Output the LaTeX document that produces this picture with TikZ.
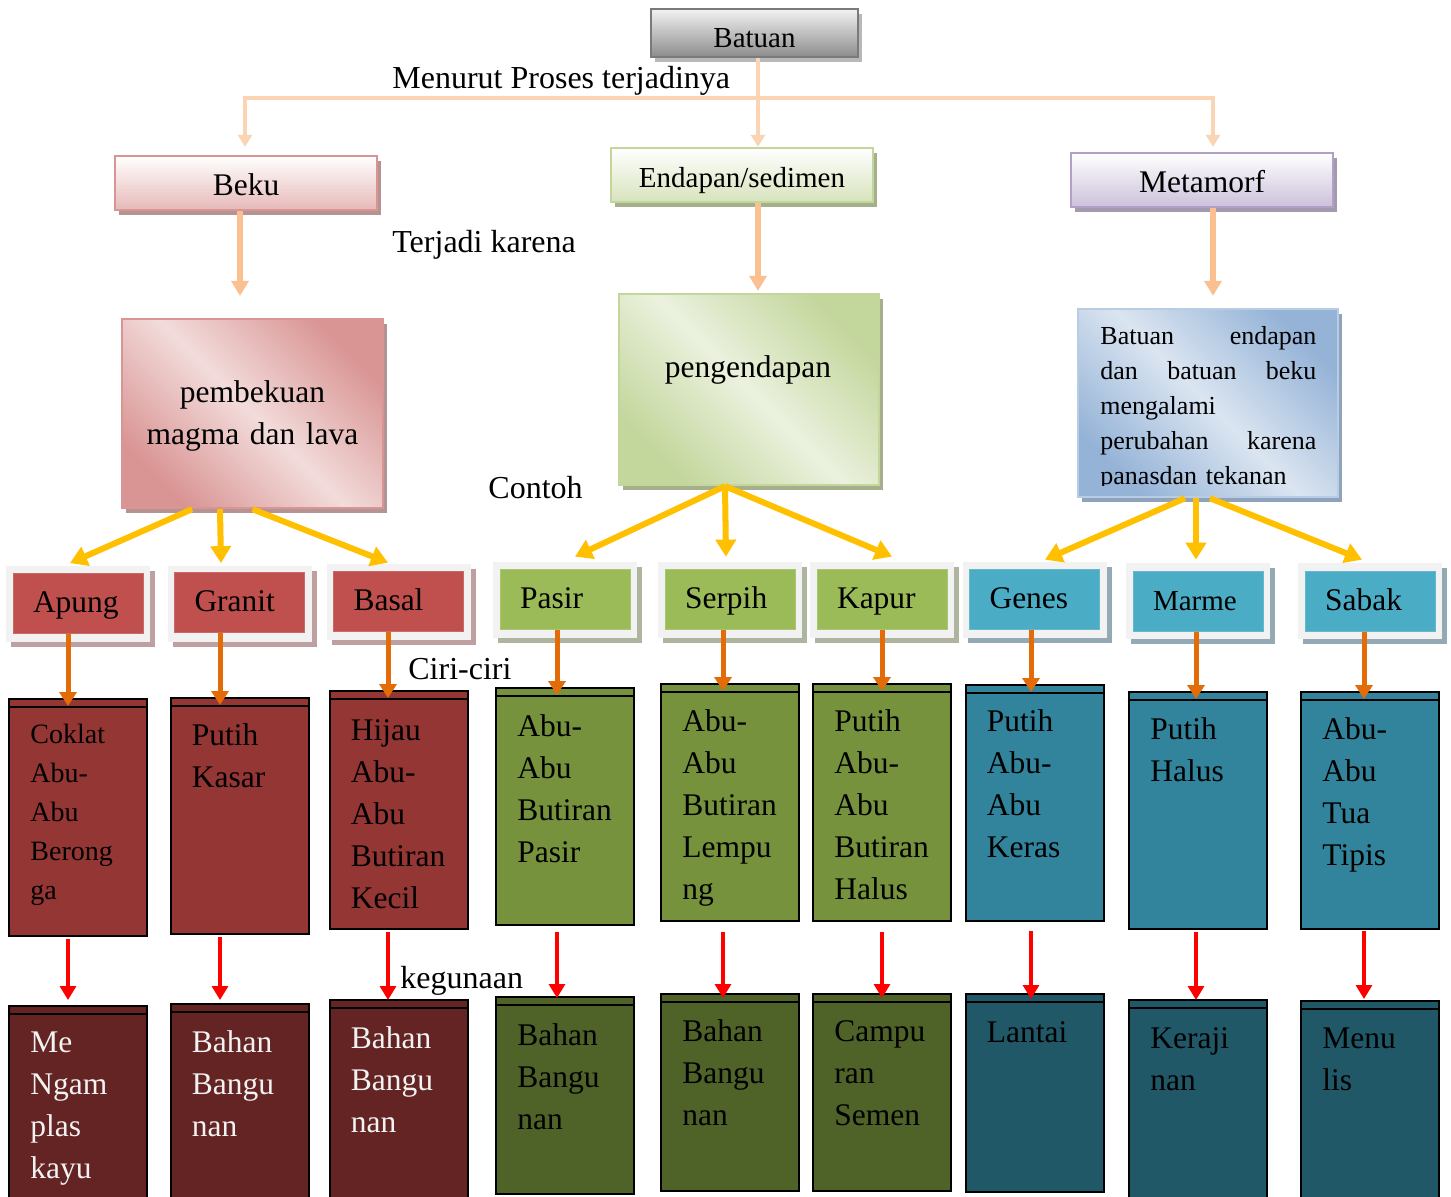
\documentclass[tikz,border=0pt]{standalone}
\usepackage{fontspec}
\setmainfont{Liberation Serif}
\usetikzlibrary{arrows.meta,shadows}

% type sizes
\newcommand\szbox{\fontsize{15.75}{21}\selectfont}
\newcommand\szsmall{\fontsize{14.5}{19.5}\selectfont}
\newcommand\szfeat{\fontsize{14}{19.5}\selectfont}
\newcommand\szdesc{\fontsize{13}{17.5}\selectfont}
\newcommand\szlabel{\fontsize{16}{21}\selectfont}

% connector colours
\definecolor{peachA}{HTML}{FBD4B4}
\definecolor{peachB}{HTML}{FAC090}
\definecolor{amber}{HTML}{FFC000}
\definecolor{orng}{HTML}{E36C09}
\definecolor{redA}{HTML}{FF0000}
% header boxes
\definecolor{batTop}{HTML}{F2F2F2}
\definecolor{batLow}{HTML}{8C8C8C}
\definecolor{batEdge}{HTML}{7A7A7A}
\definecolor{batShadow}{HTML}{B8B8B8}
\definecolor{pinkLight}{HTML}{F2DCDB}
\definecolor{pinkLow}{HTML}{E6B9B8}
\definecolor{pinkDark}{HTML}{D99594}
\definecolor{pinkShadow}{HTML}{B59393}
\definecolor{greenLight}{HTML}{EBF1DE}
\definecolor{greenLow}{HTML}{D7E3BC}
\definecolor{greenDark}{HTML}{C3D69B}
\definecolor{greenShadow}{HTML}{A5AF8C}
\definecolor{lilacLow}{HTML}{CCC1DA}
\definecolor{lilacEdge}{HTML}{B2A1C7}
\definecolor{lilacShadow}{HTML}{A39AB0}
\definecolor{blueLight}{HTML}{DBE5F1}
\definecolor{blueDark}{HTML}{95B3D7}
\definecolor{blueEdge}{HTML}{B8CCE4}
\definecolor{blueShadow}{HTML}{8FA3BC}
% rock columns
\definecolor{frame}{HTML}{F2F2F2}
\definecolor{rockRed}{HTML}{C0504D}
\definecolor{rockGreen}{HTML}{9BBB59}
\definecolor{rockBlue}{HTML}{4BACC6}
\definecolor{featRed}{HTML}{943634}
\definecolor{featGreen}{HTML}{76923C}
\definecolor{featBlue}{HTML}{31849B}
\definecolor{useRed}{HTML}{632423}
\definecolor{useGreen}{HTML}{4F6228}
\definecolor{useBlue}{HTML}{215868}
\definecolor{shRed}{HTML}{BFA0A0}
\definecolor{shGreen}{HTML}{AEB59E}
\definecolor{shBlue}{HTML}{93A9B4}
\definecolor{paleText}{HTML}{F2F2F2}

\begin{document}
\begin{tikzpicture}[x=0.5pt, y=-0.5pt,
  every node/.style={font=\szbox},
  head/.style n args={3}{draw=#1, line width=1.2pt, top color=white, bottom color=#2,
    minimum width=131pt, minimum height=27pt, inner sep=0pt,
    text height=12pt, text depth=0pt,
    drop shadow={shadow xshift=2pt, shadow yshift=-2.5pt, fill=#3, opacity=1}},
  diag/.style n args={4}{draw=#1, line width=1.2pt, top color=#2, bottom color=#2,
    middle color=#3, shading angle=-45, inner sep=0pt,
    drop shadow={shadow xshift=2pt, shadow yshift=-2.5pt, fill=#4, opacity=1}},
  catout/.style={fill=frame, minimum width=72pt, minimum height=38pt, inner sep=0pt,
    drop shadow={shadow xshift=2.5pt, shadow yshift=-2.5pt, fill=#1, opacity=1}},
  catin/.style={fill=#1, draw=#1!85!white, line width=0.5pt, minimum width=65pt,
    minimum height=30pt, text width=45pt, inner xsep=10pt, inner ysep=0pt,
    align=left, text height=10pt, text depth=1pt},
  feat/.style={fill=#1, draw=black, line width=1pt, minimum width=69pt, inner sep=0pt,
    anchor=north,
    path picture={\draw[black, line width=1pt]
      ([yshift=-4pt]path picture bounding box.north west) --
      ([yshift=-4pt]path picture bounding box.north east);}},
  ftxt/.style={anchor=base west, inner sep=0pt, text width=60pt, align=left, font=\szbox},
  lbl/.style={anchor=base west, inner sep=0pt, font=\szlabel},
  thinpeach/.style={draw=peachA, line width=2pt, -{Triangle[width=7pt,length=6pt]}},
  thickpeach/.style={draw=peachB, line width=3pt, -{Triangle[width=8.5pt,length=7.5pt]}},
  yarr/.style={draw=amber, line width=3pt, -{Triangle[width=10pt,length=8.5pt]}},
  oarr/.style={draw=orng, line width=2.5pt, -{Triangle[width=8.5pt,length=7pt]}},
  rarr/.style={draw=redA, line width=1.6pt, -{Triangle[width=8pt,length=7pt]}}
]
\useasboundingbox (0,0) rectangle (1451,1196);
\clip (0,0) rectangle (1451,1196);
\fill[white] (0,0) rectangle (1451,1196);

% ---------- header row ----------
\node[head={batEdge}{batLow}{batShadow}, top color=batTop, bottom color=batLow,
      minimum width=103.5pt, minimum height=24pt, text height=14pt, font=\szsmall] (batuan) at (754.5,33) {Batuan};
\node[head={pinkDark}{pinkLow}{pinkShadow}] (beku) at (246,183) {Beku};
\node[head={greenDark}{greenLow}{greenShadow}, font=\szsmall] (endapan) at (742,175) {Endapan/sedimen};
\node[head={lilacEdge}{lilacLow}{lilacShadow}] (metamorf) at (1202,180) {Metamorf};

% ---------- process boxes ----------
\node[diag={pinkDark}{pinkDark}{pinkLight}{pinkShadow}, minimum width=130.5pt, minimum height=94.5pt] (pemb) at (252.5,413.5) {};
\node[diag={greenDark}{greenDark}{greenLight}{greenShadow}, minimum width=130pt, minimum height=95.5pt] (peng) at (749,389.5) {};
\node[diag={blueEdge}{blueDark}{blueLight}{blueShadow}, minimum width=130pt, minimum height=94pt] (metdesc) at (1208,403) {};

\node[anchor=base, inner sep=0pt, text width=125pt, align=center] (pembT) at (252.5,402) {pembekuan\\magma dan lava};
\node[anchor=base, inner sep=0pt] (pengT) at (748,377) {pengendapan};
\begin{scope}
  \clip (1078,309) rectangle (1338,485);
  \node[anchor=base west, inner sep=0pt, text width=108pt, align=left, font=\szdesc] (metT) at (1100,344)
    {\makebox[108pt][l]{Batuan\hfill endapan}\\
     \makebox[108pt][l]{dan\hfill batuan\hfill beku}\\
     mengalami\\
     \makebox[108pt][l]{perubahan\hfill karena}\\
     panasdan tekanan};
\end{scope}

% ---------- free labels ----------
\node[lbl] (procLbl) at (392,88) {Menurut Proses terjadinya};
\node[lbl] (causeLbl) at (392,252) {Terjadi karena};
\node[lbl] (exLbl) at (488,498) {Contoh};
\node[lbl] (traitLbl) at (408,679) {Ciri-ciri};
\node[lbl] (useLbl) at (400,988) {kegunaan};

% ---------- rock names ----------
\node[catout=shRed] (apung-out) at (78,603.5) {};
\node[catin=rockRed] (apung-in) at (78,603) {Apung};
\node[catout=shRed] (granit-out) at (239.5,603.5) {};
\node[catin=rockRed] (granit-in) at (239.5,602.5) {Granit};
\node[catout=shRed] (basal-out) at (398.5,601.5) {};
\node[catin=rockRed] (basal-in) at (398.5,601) {Basal};
\node[catout=shGreen] (pasir-out) at (565,599.5) {};
\node[catin=rockGreen] (pasir-in) at (565,599) {Pasir};
\node[catout=shGreen] (serpih-out) at (730,599.5) {};
\node[catin=rockGreen] (serpih-in) at (730,599) {Serpih};
\node[catout=shGreen] (kapur-out) at (882,599.5) {};
\node[catin=rockGreen] (kapur-in) at (882,599) {Kapur};
\node[catout=shBlue] (genes-out) at (1034.5,599.5) {};
\node[catin=rockBlue] (genes-in) at (1034.5,599) {Genes};
\node[catout=shBlue] (marme-out) at (1198,601) {};
\node[catin=rockBlue, font=\szsmall] (marme-in) at (1198,601) {Marme};
\node[catout=shBlue] (sabak-out) at (1370,601) {};
\node[catin=rockBlue] (sabak-in) at (1370,601) {Sabak};

% ---------- traits ----------
\node[feat=featRed, minimum height=118.5pt] (apung-ft) at (78,698) {};
\node[feat=featRed, minimum height=118pt] (granit-ft) at (239.5,697) {};
\node[feat=featRed, minimum height=119pt] (basal-ft) at (398.5,690) {};
\node[feat=featGreen, minimum height=118.5pt] (pasir-ft) at (565,687) {};
\node[feat=featGreen, minimum height=118.5pt] (serpih-ft) at (730,683) {};
\node[feat=featGreen, minimum height=118.5pt] (kapur-ft) at (882,683) {};
\node[feat=featBlue, minimum height=118pt] (genes-ft) at (1034.5,684) {};
\node[feat=featBlue, minimum height=118.5pt] (marme-ft) at (1198,691) {};
\node[feat=featBlue, minimum height=118.5pt] (sabak-ft) at (1370,691) {};

\node[ftxt, font=\szfeat] (apung-ftt) at (30,743) {Coklat\\Abu-\\Abu\\Berong\\ga};
\node[ftxt] (granit-ftt) at (191.5,745) {Putih\\Kasar};
\node[ftxt] (basal-ftt) at (350.5,740) {Hijau\\Abu-\\Abu\\Butiran\\Kecil};
\node[ftxt] (pasir-ftt) at (517,736) {Abu-\\Abu\\Butiran\\Pasir};
\node[ftxt] (serpih-ftt) at (682,731) {Abu-\\Abu\\Butiran\\Lempu\\ng};
\node[ftxt] (kapur-ftt) at (834,731) {Putih\\Abu-\\Abu\\Butiran\\Halus};
\node[ftxt] (genes-ftt) at (986.5,731) {Putih\\Abu-\\Abu\\Keras};
\node[ftxt] (marme-ftt) at (1150,739) {Putih\\Halus};
\node[ftxt] (sabak-ftt) at (1322,739) {Abu-\\Abu\\Tua\\Tipis};

% ---------- uses ----------
\node[feat=useRed, minimum height=120pt] (apung-use) at (78,1005) {};
\node[feat=useRed, minimum height=120pt] (granit-use) at (239.5,1003) {};
\node[feat=useRed, minimum height=120pt] (basal-use) at (398.5,999) {};
\node[feat=useGreen, minimum height=98.5pt] (pasir-use) at (565,996) {};
\node[feat=useGreen, minimum height=98.5pt] (serpih-use) at (730,993) {};
\node[feat=useGreen, minimum height=98.5pt] (kapur-use) at (882,993) {};
\node[feat=useBlue, minimum height=99pt] (genes-use) at (1034.5,993) {};
\node[feat=useBlue, minimum height=120pt] (marme-use) at (1198,999) {};
\node[feat=useBlue, minimum height=120pt] (sabak-use) at (1370,1000) {};

\node[ftxt, text=paleText] (apung-uset) at (30,1052) {Me\\Ngam\\plas\\kayu};
\node[ftxt, text=paleText] (granit-uset) at (191.5,1052) {Bahan\\Bangu\\nan};
\node[ftxt, text=paleText] (basal-uset) at (350.5,1048) {Bahan\\Bangu\\nan};
\node[ftxt] (pasir-uset) at (517,1045) {Bahan\\Bangu\\nan};
\node[ftxt] (serpih-uset) at (682,1041) {Bahan\\Bangu\\nan};
\node[ftxt] (kapur-uset) at (834,1041) {Campu\\ran\\Semen};
\node[ftxt] (genes-uset) at (986.5,1042) {Lantai};
\node[ftxt] (marme-uset) at (1150,1048) {Keraji\\nan};
\node[ftxt] (sabak-uset) at (1322,1048) {Menu\\lis};

% ---------- connectors ----------
\coordinate (hub) at (758,98);
\draw[thinpeach, -] ([xshift=1.75pt]batuan.south) -- (hub);
\draw[thinpeach] (hub) -- ([xshift=8pt]endapan.north);
\draw[thinpeach] (hub) -| ([xshift=-0.5pt,yshift=4pt]beku.north);
\draw[thinpeach] (hub) -| ([xshift=5.5pt,yshift=2.5pt]metamorf.north);

\draw[thickpeach] ([xshift=-3pt]beku.south) -- ([xshift=-6.25pt,yshift=11pt]pemb.north);
\draw[thickpeach] ([xshift=8pt]endapan.south) -- ([xshift=4.5pt,yshift=1pt]peng.north);
\draw[thickpeach] ([xshift=5.5pt]metamorf.south) -- ([xshift=2.5pt,yshift=6pt]metdesc.north);

\draw[yarr] ([xshift=-30.25pt]pemb.south) -- ([xshift=-4pt,yshift=1pt]apung-out.north);
\draw[yarr] ([xshift=-16.25pt]pemb.south) -- ([xshift=-9.25pt,yshift=1pt]granit-out.north);
\draw[yarr] ([xshift=0pt]pemb.south) -- ([xshift=-5.25pt,yshift=0.25pt]basal-out.north);
\draw[yarr] ([xshift=-12pt]peng.south) -- ([xshift=5pt,yshift=2.25pt]pasir-out.north);
\draw[yarr] ([xshift=-12pt]peng.south) -- ([xshift=-2pt,yshift=2.25pt]serpih-out.north);
\draw[yarr] ([xshift=-12pt]peng.south) -- ([xshift=5pt,yshift=2.25pt]kapur-out.north);
\draw[yarr] ([xshift=-11.5pt]metdesc.south) -- ([xshift=5.25pt,yshift=0.75pt]genes-out.north);
\draw[yarr] ([xshift=-6pt]metdesc.south) -- ([xshift=-1pt,yshift=1.5pt]marme-out.north);
\draw[yarr] ([xshift=1pt]metdesc.south) -- ([xshift=-4pt,yshift=1.5pt]sabak-out.north);

\foreach \c/\dx/\sy/\ey in {apung/-5pt/-1pt/2.5pt, granit/-9.75pt/-1pt/1.5pt,
    basal/-5.25pt/-1pt/-0.5pt, pasir/-4pt/-3pt/-1pt, serpih/-3.5pt/-5pt/-2.5pt,
    kapur/0pt/-5pt/-2.5pt, genes/-1.75pt/-4.5pt/-3pt, marme/-1pt/-1pt/-0.5pt,
    sabak/-3pt/-0.5pt/0.5pt}{
  \draw[oarr] ([xshift=\dx]\c-in.south) -- ([xshift=\dx,yshift=-4pt]\c-ft.north);
  \draw[rarr] ([xshift=\dx,yshift=\sy]\c-ft.south) -- ([xshift=\dx,yshift=\ey]\c-use.north);
}
\end{tikzpicture}
\end{document}
